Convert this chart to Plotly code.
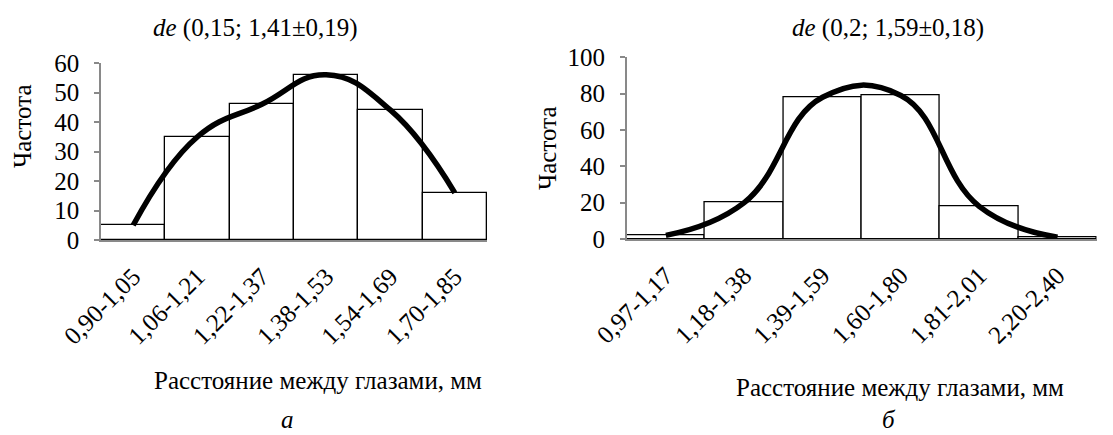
import plotly.graph_objects as go

# ---- data ----
cats_a = ["0,90-1,05", "1,06-1,21", "1,22-1,37", "1,38-1,53", "1,54-1,69", "1,70-1,85"]
freq_a = [5, 35, 46, 56, 44, 16]

cats_b = ["0,97-1,17", "1,18-1,38", "1,39-1,59", "1,60-1,80", "1,81-2,01", "2,20-2,40"]
freq_b = [2, 20, 78, 79, 18, 1]

title_a = "<i>de</i> (0,15; 1,41±0,19)"
title_b = "<i>de</i> (0,2; 1,59±0,18)"
xlabel = "Расстояние между глазами, мм"
ylabel = "Частота"
panel_a = "<i>а</i>"
panel_b = "<i>б</i>"

W, H = 1113, 435
FONT = "Liberation Serif, Times New Roman, serif"
FS = 25
AXC = "#898989"

def px(x):
    return x / W

def py(y):
    return 1 - y / H

fig = go.Figure()

for cats, vals, xa, ya in [(cats_a, freq_a, "x", "y"), (cats_b, freq_b, "x2", "y2")]:
    fig.add_trace(go.Bar(
        x=cats, y=vals, xaxis=xa, yaxis=ya,
        width=1.0,
        marker=dict(color="white", line=dict(color="black", width=1.3)),
        showlegend=False, hoverinfo="x+y",
    ))
    fig.add_trace(go.Scatter(
        x=cats, y=vals, xaxis=xa, yaxis=ya,
        mode="lines", line=dict(color="black", width=5.5, shape="spline", smoothing=1.25),
        showlegend=False, hoverinfo="skip",
    ))

common_x = dict(
    type="category", range=[-0.5, 5.5], showline=True, linecolor=AXC, linewidth=2,
    ticks="", tickangle=-45, showgrid=False, zeroline=False, automargin=False,
    tickfont=dict(family=FONT, size=FS, color="black"), ticklabelstandoff=10,
)
common_y = dict(
    showline=True, linecolor=AXC, linewidth=1.5, ticks="outside", ticklen=5,
    tickcolor=AXC, tickwidth=1.5, showgrid=False, zeroline=False, automargin=False,
    tickfont=dict(family=FONT, size=FS, color="black"), ticklabelstandoff=10,
)

fig.update_layout(
    template="none",
    width=W, height=H,
    margin=dict(l=0, r=0, t=0, b=0, autoexpand=False),
    paper_bgcolor="white", plot_bgcolor="white",
    bargap=0,
    xaxis=dict(domain=[px(101), px(487)], anchor="y", **common_x),
    yaxis=dict(domain=[py(240), py(63)], anchor="x", range=[0, 60], tickvals=[0, 10, 20, 30, 40, 50, 60], **common_y),
    xaxis2=dict(domain=[px(626.7), px(1096.7)], anchor="y2", **common_x),
    yaxis2=dict(domain=[py(239), py(57.3)], anchor="x2", range=[0, 100], tickvals=[0, 20, 40, 60, 80, 100], **common_y),
)

ann = [
    (title_a, 255, 28, 0),
    (title_b, 888, 28, 0),
    (ylabel, 22, 126, -90),
    (ylabel, 548, 148, -90),
    (xlabel, 318, 380, 0),
    (xlabel, 900, 387, 0),
    (panel_a, 287, 419, 0),
    (panel_b, 889, 419, 0),
]
for text, x, y, ang in ann:
    fig.add_annotation(
        text=text, x=px(x), y=py(y), xref="paper", yref="paper",
        xanchor="center", yanchor="middle", showarrow=False, textangle=ang,
        font=dict(family=FONT, size=FS, color="black"),
    )

fig.write_html(
    "out.html",
    config={"displayModeBar": False},
    post_script="document.body.style.margin='0';document.body.style.overflow='hidden';",
)
